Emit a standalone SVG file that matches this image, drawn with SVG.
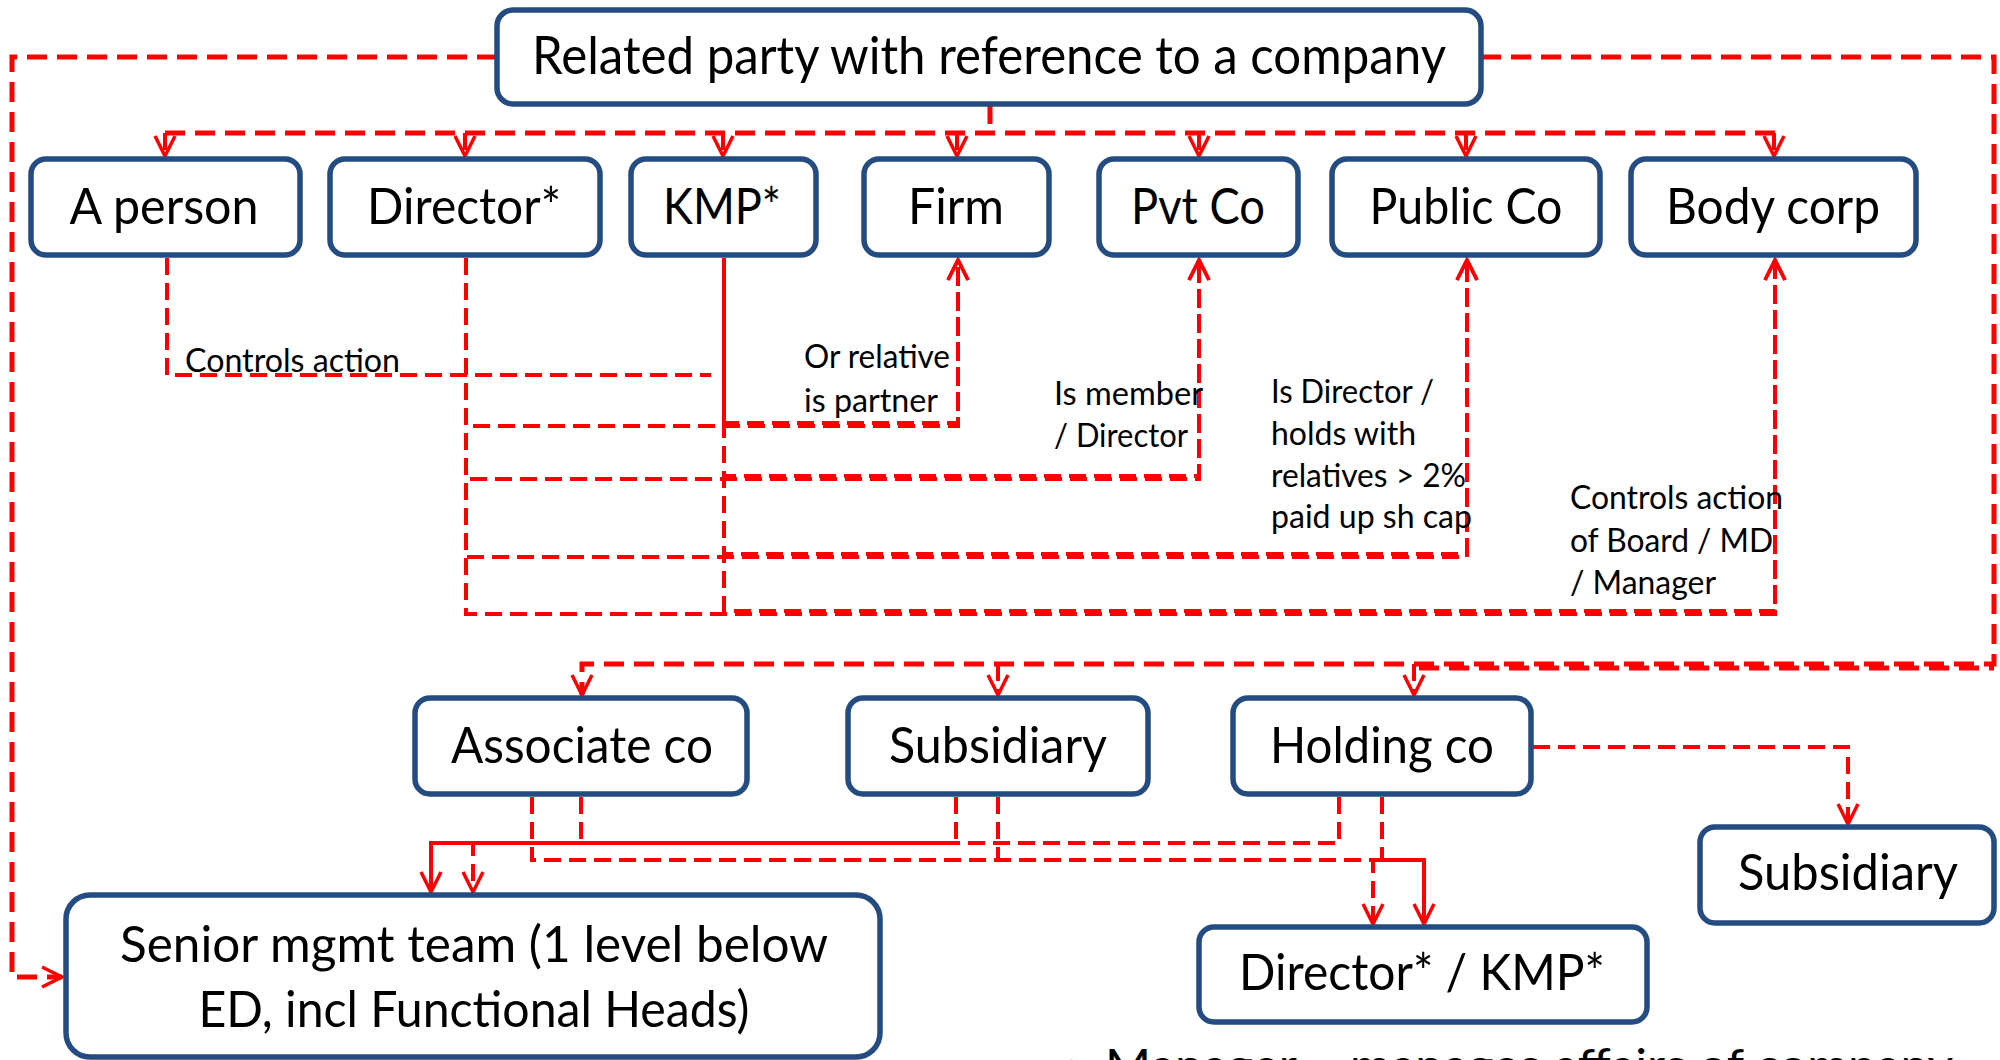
<svg xmlns="http://www.w3.org/2000/svg" width="2000" height="1060" viewBox="0 0 2000 1060">
<style>
.box{fill:#fff;stroke:#254c80;stroke-width:5.5}
.t{font-family:Lato,"Liberation Sans",sans-serif;font-size:50px;fill:#000;text-anchor:middle}
.tt{font-size:52px}
.lb{font-family:Lato,"Liberation Sans",sans-serif;font-size:33px;fill:#000}
.c{fill:none;stroke:#ff0000;stroke-width:4}
.d{stroke-dasharray:17 8}
.d2{stroke-dasharray:17 8;stroke-dashoffset:12}
.bus{stroke-width:5;stroke-dasharray:20 10}
</style>
<defs>
<marker id="a" markerUnits="userSpaceOnUse" markerWidth="26" markerHeight="26" viewBox="0 0 26 26" refX="22" refY="12" orient="auto">
<path d="M2,2 L22,12 L2,22" fill="none" stroke="#ff0000" stroke-width="3.5" stroke-dasharray="none"/>
</marker>
</defs>

<g id="connectors">
<path class="c d bus" d="M497,57 H12 V977 H62" marker-end="url(#a)"/>
<path class="c d bus" d="M1481,57 H1994 V664 H582 V695" marker-end="url(#a)"/>
<path class="c d2 bus" d="M1994,668 H1414" style="stroke-dashoffset:15"/>
<path class="c d" d="M998,664 V695" marker-end="url(#a)"/>
<path class="c d" d="M1414,664 V695" marker-end="url(#a)"/>
<path class="c d bus" d="M990,104 V133 M165,133 H1775"/>
<path class="c d" d="M165,133 V156" marker-end="url(#a)"/>
<path class="c d" d="M465,133 V156" marker-end="url(#a)"/>
<path class="c d" d="M723,133 V156" marker-end="url(#a)"/>
<path class="c d" d="M957,133 V156" marker-end="url(#a)"/>
<path class="c d" d="M1199,133 V156" marker-end="url(#a)"/>
<path class="c d" d="M1466,133 V156" marker-end="url(#a)"/>
<path class="c d" d="M1774,133 V156" marker-end="url(#a)"/>
<path class="c d" d="M167,258 V375 H711"/>
<path class="c d" d="M466,258 V426 H958 V260" marker-end="url(#a)"/>
<path class="c d" d="M466,258 V479 H1199 V260" marker-end="url(#a)"/>
<path class="c d" d="M466,258 V557 H1467 V260" marker-end="url(#a)"/>
<path class="c d" d="M466,258 V614 H1775 V260" marker-end="url(#a)"/>
<path class="c" d="M724,258 V423"/>
<path class="c d2" d="M724,258 V423 H958 V260" marker-end="url(#a)"/>
<path class="c d2" d="M724,258 V476 H1199 V260" marker-end="url(#a)"/>
<path class="c d2" d="M724,258 V554 H1467 V260" marker-end="url(#a)"/>
<path class="c d2" d="M724,258 V611 H1775 V260" marker-end="url(#a)"/>
<path class="c d" d="M1533,747 H1848 V824" marker-end="url(#a)"/>
<path class="c d" d="M581,797 V843 H473 V892" marker-end="url(#a)"/>
<path class="c" d="M956,843 H431 V892" marker-end="url(#a)"/>
<path class="c d" d="M956,797 V843"/>
<path class="c d" d="M1339,797 V843 H956"/>
<path class="c d" d="M532,797 V860 H1373 V924" marker-end="url(#a)"/>
<path class="c d" d="M998,797 V860"/>
<path class="c d" d="M1382,797 V860"/>
<path class="c" d="M1373,860 H1424 V924" marker-end="url(#a)"/>
</g>

<g id="n-title"><rect class="box" x="497" y="10" width="984" height="94" rx="16"/><text class="t tt" x="989" y="74" textLength="914" lengthAdjust="spacingAndGlyphs">Related party with reference to a company</text></g>
<g id="n-person"><rect class="box" x="31" y="159" width="269" height="96" rx="15"/><text class="t" x="164" y="224" textLength="189" lengthAdjust="spacingAndGlyphs">A person</text></g>
<g id="n-director"><rect class="box" x="330" y="159" width="270" height="96" rx="15"/><text class="t" x="464" y="224" textLength="194" lengthAdjust="spacingAndGlyphs">Director*</text></g>
<g id="n-kmp"><rect class="box" x="631" y="159" width="185" height="96" rx="15"/><text class="t" x="722" y="224" textLength="118" lengthAdjust="spacingAndGlyphs">KMP*</text></g>
<g id="n-firm"><rect class="box" x="864" y="159" width="185" height="96" rx="15"/><text class="t" x="956" y="224" textLength="96" lengthAdjust="spacingAndGlyphs">Firm</text></g>
<g id="n-pvt"><rect class="box" x="1099" y="159" width="199" height="96" rx="15"/><text class="t" x="1198" y="224" textLength="134" lengthAdjust="spacingAndGlyphs">Pvt Co</text></g>
<g id="n-public"><rect class="box" x="1332" y="159" width="268" height="96" rx="15"/><text class="t" x="1466" y="224" textLength="193" lengthAdjust="spacingAndGlyphs">Public Co</text></g>
<g id="n-body"><rect class="box" x="1631" y="159" width="285" height="96" rx="15"/><text class="t" x="1773" y="224" textLength="214" lengthAdjust="spacingAndGlyphs">Body corp</text></g>

<g id="n-associate"><rect class="box" x="415" y="698" width="332" height="96" rx="15"/><text class="t" x="582" y="763" textLength="262" lengthAdjust="spacingAndGlyphs">Associate co</text></g>
<g id="n-subsidiary"><rect class="box" x="848" y="698" width="300" height="96" rx="15"/><text class="t" x="998" y="763" textLength="218" lengthAdjust="spacingAndGlyphs">Subsidiary</text></g>
<g id="n-holding"><rect class="box" x="1233" y="698" width="298" height="96" rx="15"/><text class="t" x="1382" y="763" textLength="224" lengthAdjust="spacingAndGlyphs">Holding co</text></g>
<g id="n-subsidiary2"><rect class="box" x="1700" y="827" width="294" height="96" rx="15"/><text class="t" x="1848" y="890" textLength="220" lengthAdjust="spacingAndGlyphs">Subsidiary</text></g>
<g id="n-senior"><rect class="box" x="66" y="895" width="814" height="162" rx="24"/><text class="t" x="474" y="962" textLength="708" lengthAdjust="spacingAndGlyphs">Senior mgmt team (1 level below</text><text class="t" x="474" y="1027" textLength="551" lengthAdjust="spacingAndGlyphs">ED, incl Functional Heads)</text></g>
<g id="n-dirkmp"><rect class="box" x="1199" y="927" width="448" height="95" rx="15"/><text class="t" x="1422" y="990" textLength="366" lengthAdjust="spacingAndGlyphs">Director* / KMP*</text></g>

<g id="labels">
<text class="lb" x="185" y="372" textLength="215" lengthAdjust="spacingAndGlyphs">Controls action</text>
<text class="lb" x="804" y="368" textLength="146" lengthAdjust="spacingAndGlyphs">Or relative</text>
<text class="lb" x="804" y="412" textLength="134" lengthAdjust="spacingAndGlyphs">is partner</text>
<text class="lb" x="1054" y="405" textLength="149" lengthAdjust="spacingAndGlyphs">Is member</text>
<text class="lb" x="1054" y="447" textLength="134" lengthAdjust="spacingAndGlyphs">/ Director</text>
<text class="lb" x="1271" y="403" textLength="163" lengthAdjust="spacingAndGlyphs">Is Director /</text>
<text class="lb" x="1271" y="445" textLength="145" lengthAdjust="spacingAndGlyphs">holds with</text>
<text class="lb" x="1271" y="487" textLength="195" lengthAdjust="spacingAndGlyphs">relatives &gt; 2%</text>
<text class="lb" x="1271" y="528" textLength="201" lengthAdjust="spacingAndGlyphs">paid up sh cap</text>
<text class="lb" x="1570" y="509" textLength="213" lengthAdjust="spacingAndGlyphs">Controls action</text>
<text class="lb" x="1570" y="552" textLength="203" lengthAdjust="spacingAndGlyphs">of Board / MD</text>
<text class="lb" x="1570" y="594" textLength="146" lengthAdjust="spacingAndGlyphs">/ Manager</text>
</g>

<g id="footer">
<text x="1058" y="1082" font-family="Lato,'Liberation Sans',sans-serif" font-size="46" fill="#254c80">•</text>
<text x="1105" y="1082" font-family="Lato,'Liberation Sans',sans-serif" font-size="46" fill="#000" textLength="848" lengthAdjust="spacingAndGlyphs">Manager – manages affairs of company</text>
</g>
</svg>
